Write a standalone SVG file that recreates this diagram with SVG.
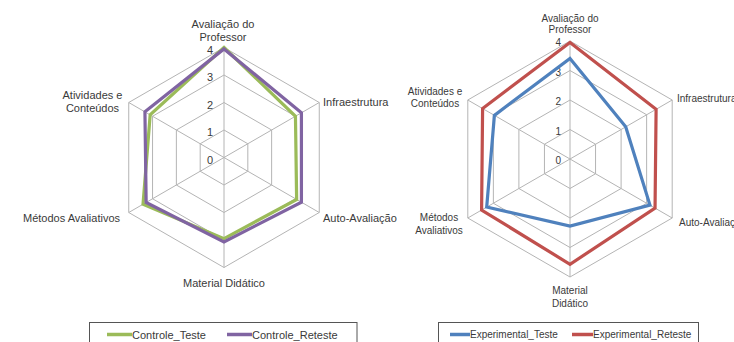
<svg xmlns="http://www.w3.org/2000/svg" width="734" height="342" viewBox="0 0 734 342">
<style>
.bg{fill:#ffffff}
.grid{fill:none;stroke:#b4b4b4;stroke-width:1}
.lbl{font-family:"Liberation Sans",Arial,sans-serif;fill:#3a3a3a}
.l11{font-size:11px}
.l10{font-size:10px}
.tick{text-anchor:end}
.mid{text-anchor:middle}
.ser{fill:none;stroke-width:3.2;stroke-linejoin:miter}
.green{stroke:#9bbb59}
.purple{stroke:#8064a2}
.blue{stroke:#4f81bd}
.red{stroke:#c0504d}
.legend{fill:#ffffff;stroke:#555555;stroke-width:1}
.lline{stroke-width:3.5}
</style>
<rect class="bg" x="0" y="0" width="734" height="342"/>

<!-- Left chart -->
<g id="chart-left">
  <g id="left-grid">
    <polygon class="grid" points="224,130 247.82,143.75 247.82,171.25 224,185 200.18,171.25 200.18,143.75"/>
    <polygon class="grid" points="224,102.5 271.63,130 271.63,185 224,212.5 176.37,185 176.37,130"/>
    <polygon class="grid" points="224,75 295.45,116.25 295.45,198.75 224,240 152.55,198.75 152.55,116.25"/>
    <polygon class="grid" points="224,47.5 319.26,102.5 319.26,212.5 224,267.5 128.74,212.5 128.74,102.5"/>
    <path class="grid" d="M224,157.5L224,47.5M224,157.5L319.26,102.5M224,157.5L319.26,212.5M224,157.5L224,267.5M224,157.5L128.74,212.5M224,157.5L128.74,102.5"/>
  </g>
  <g id="left-ticks" class="lbl l11 tick">
    <text x="213" y="53.5">4</text>
    <text x="213" y="81">3</text>
    <text x="213" y="108.5">2</text>
    <text x="213" y="136">1</text>
    <text x="213" y="163.5">0</text>
  </g>
  <g id="left-series">
    <polygon id="controle-teste" class="ser green" points="224,47.5 295.45,116.25 296.66,199.45 224,238.6 143.03,204.25 150.17,114.87"/>
    <polygon id="controle-reteste" class="ser purple" points="224,48.9 301.42,112.8 301.42,202.2 224,241.9 146.15,202.45 144.93,111.85"/>
  </g>
  <g id="left-axis-labels" class="lbl l11">
    <text class="mid" x="223" y="28">Avaliação do</text>
    <text class="mid" x="223" y="41">Professor</text>
    <text x="323" y="106">Infraestrutura</text>
    <text x="323" y="222">Auto-Avaliação</text>
    <text class="mid" x="224" y="287">Material Didático</text>
    <text x="23" y="222">Métodos Avaliativos</text>
    <text class="mid" x="92.5" y="99">Atividades e</text>
    <text class="mid" x="92.5" y="112">Conteúdos</text>
  </g>
  <g id="left-legend">
    <rect class="legend" x="89.5" y="322.5" width="267.5" height="30"/>
    <line class="lline green" x1="107" y1="334.5" x2="132" y2="334.5"/>
    <text class="lbl l11" x="132" y="338.5">Controle_Teste</text>
    <line class="lline purple" x1="227" y1="334.5" x2="252" y2="334.5"/>
    <text class="lbl l11" x="252" y="338.5">Controle_Reteste</text>
  </g>
</g>

<!-- Right chart -->
<g id="chart-right">
  <g id="right-grid">
    <polygon class="grid" points="570,129.5 595.55,144.25 595.55,173.75 570,188.5 544.45,173.75 544.45,144.25"/>
    <polygon class="grid" points="570,100 621.1,129.5 621.1,188.5 570,218 518.9,188.5 518.9,129.5"/>
    <polygon class="grid" points="570,70.5 646.64,114.75 646.64,203.25 570,247.5 493.36,203.25 493.36,114.75"/>
    <polygon class="grid" points="570,41 672.19,100 672.19,218 570,277 467.81,218 467.81,100"/>
    <path class="grid" d="M570,159L570,41M570,159L672.19,100M570,159L672.19,218M570,159L570,277M570,159L467.81,218M570,159L467.81,100"/>
  </g>
  <g id="right-ticks" class="lbl l10 tick">
    <text x="561" y="46">4</text>
    <text x="561" y="75.5">3</text>
    <text x="561" y="105">2</text>
    <text x="561" y="134.5">1</text>
    <text x="561" y="164">0</text>
  </g>
  <g id="right-series">
    <polygon id="experimental-teste" class="ser blue" points="570,58.4 625.7,126.85 649.95,205.15 570,226 486.7,207.1 494.4,115.35"/>
    <polygon id="experimental-reteste" class="ser red" points="570,42.5 656.1,109.3 655.05,208.1 570,264.3 481.6,210.05 482.6,108.55"/>
  </g>
  <g id="right-axis-labels" class="lbl l10">
    <text class="mid" x="570" y="22">Avaliação do</text>
    <text class="mid" x="570" y="33">Professor</text>
    <text x="677" y="102">Infraestrutura</text>
    <text x="679" y="226">Auto-Avaliação</text>
    <text class="mid" x="570" y="294">Material</text>
    <text class="mid" x="570" y="307">Didático</text>
    <text class="mid" x="439" y="221">Métodos</text>
    <text class="mid" x="439" y="234">Avaliativos</text>
    <text class="mid" x="435" y="95">Atividades e</text>
    <text class="mid" x="435" y="107">Conteúdos</text>
  </g>
  <g id="right-legend">
    <rect class="legend" x="438.5" y="322.5" width="260" height="30"/>
    <line class="lline blue" x1="450" y1="334.5" x2="470" y2="334.5"/>
    <text class="lbl l10" x="470" y="338">Experimental_Teste</text>
    <line class="lline red" x1="572" y1="334.5" x2="593" y2="334.5"/>
    <text class="lbl l10" x="593" y="338">Experimental_Reteste</text>
  </g>
</g>
</svg>
